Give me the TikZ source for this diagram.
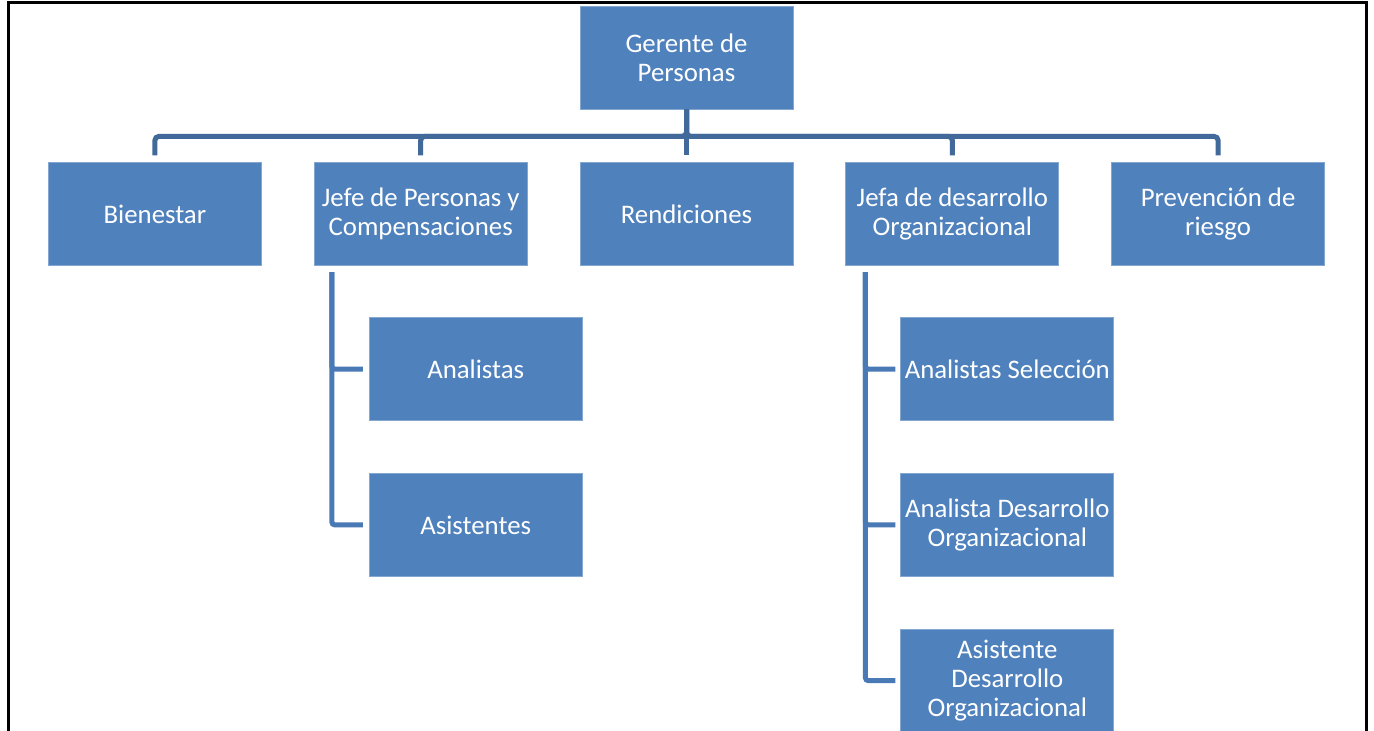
\documentclass[tikz,border=0pt]{standalone}
\usepackage{fontspec}
\setmainfont{Carlito}
\usepackage{xcolor}
\usetikzlibrary{positioning}

\definecolor{boxblue}{HTML}{4F81BD}
\definecolor{busblue}{HTML}{41699A}
\definecolor{subblue}{HTML}{4A7AB6}

\begin{document}
\begin{tikzpicture}[
    x=0.5pt, y=-0.5pt,
    node distance=26.5pt and 26pt,
    every node/.style={font=\fontsize{13.4}{14.5}\selectfont},
    box/.style={rectangle, fill=boxblue, draw=boxblue!70!white, line width=0.4pt,
      text=white, minimum width=106.5pt, minimum height=51.5pt, align=center, inner sep=1pt},
    bus/.style={draw=busblue, line width=2.5pt, rounded corners=2pt},
    sub/.style={draw=subblue, line width=2.5pt, rounded corners=1.5pt}
  ]
    \useasboundingbox (0,0) rectangle (1374,731);
    \draw[line width=1.5pt] (8,740) -- (8,3) -- (1366,3) -- (1366,740);

    \node[box] (gerente) at (686.5,57.5) {Gerente de\\Personas};
    \node[box, below=of gerente] (rendiciones) {Rendiciones};
    \node[box, left=of rendiciones] (jefe) {Jefe de Personas y\\Compensaciones};
    \node[box, left=of jefe] (bienestar) {Bienestar};
    \node[box, right=of rendiciones] (jefa) {Jefa de desarrollo\\Organizacional};
    \node[box, right=of jefa] (prevencion) {Prevención de\\riesgo};

    \node[box, below right=25.5pt and 27.5pt of jefe.south west] (analistas) {Analistas};
    \node[box, below=26pt of analistas] (asistentes) {Asistentes};

    \node[box, below right=25.5pt and 27.5pt of jefa.south west] (seleccion) {Analistas Selección};
    \node[box, below=26pt of seleccion] (analistado) {Analista Desarrollo\\Organizacional};
    \node[box, below=26pt of analistado] (asistenteado) {Asistente\\Desarrollo\\Organizacional};

    \foreach \c in {bienestar, jefe, rendiciones, jefa, prevencion}
      \draw[bus] (gerente.south) -- ++(0,-13.5pt) -| ([yshift=3.5pt]\c.north);

    \foreach \c in {analistas, asistentes}
      \draw[sub] ([xshift=9pt,yshift=-3pt]jefe.south west) |- ([xshift=-3pt]\c.west);
    \foreach \c in {seleccion, analistado, asistenteado}
      \draw[sub] ([xshift=10pt,yshift=-3pt]jefa.south west) |- ([xshift=-2.5pt]\c.west);
  \end{tikzpicture}
\end{document}
